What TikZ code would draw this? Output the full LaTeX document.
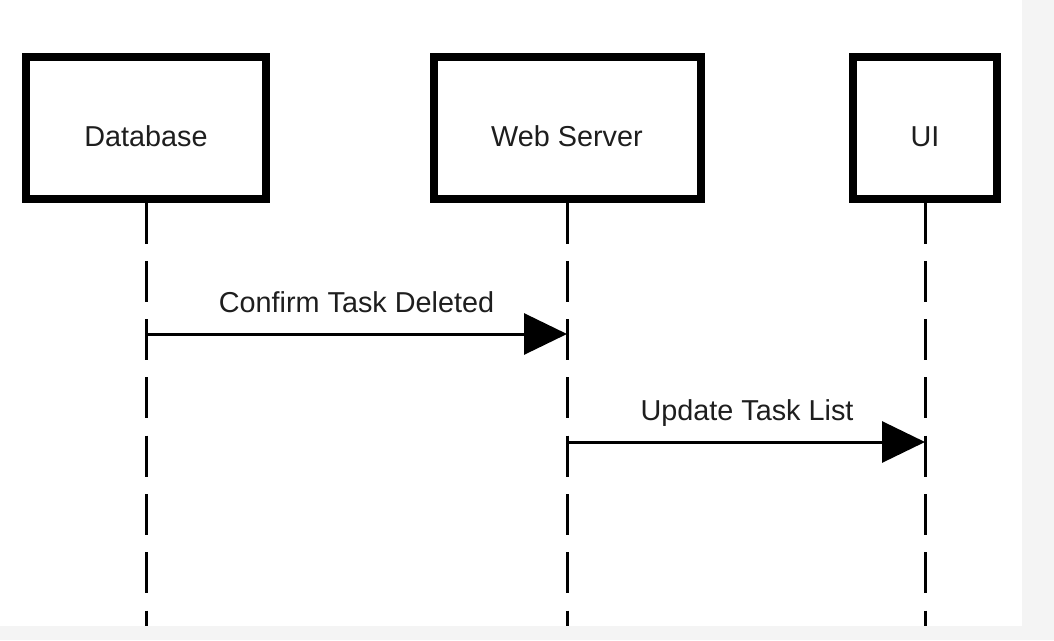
\documentclass[tikz,border=0pt]{standalone}
\usepackage{fontspec}
\setmainfont{Liberation Sans}
\usetikzlibrary{arrows.meta}
\definecolor{bggray}{HTML}{F4F4F4}
\definecolor{txt}{HTML}{1E1E1E}
\begin{document}
\begin{tikzpicture}[x=1pt,y=-1pt,
  actor/.style={draw=black,line width=8pt,fill=white,inner sep=0pt,
    minimum height=141.5pt,text height=37.5pt,text depth=0pt,
    font=\fontsize{28.8}{34}\selectfont,text=txt},
  lifeline/.style={line width=3pt,dash pattern=on 41pt off 17.3pt},
  msg/.style={line width=3pt,-{Triangle[length=43pt,width=41pt]}},
  msglabel/.style={font=\fontsize{28.8}{34}\selectfont,text=txt,inner sep=0pt,anchor=base}]
\useasboundingbox (0,0) rectangle (1054,640);
\fill[bggray] (0,0) rectangle (1054,640);
\fill[white] (0,0) rectangle (1022,626);
\node[actor,minimum width=240pt] (db) at (146,127.75) {Database};
\node[actor,minimum width=267pt] (ws) at (567,127.75) {Web Server};
\node[actor,minimum width=144pt] (ui) at (925,127.75) {UI};
\coordinate (dbend) at (146,626);
\coordinate (wsend) at (567,626);
\coordinate (uiend) at (925,626);
\draw[lifeline] (db.south) -- (dbend);
\draw[lifeline] (ws.south) -- (wsend);
\draw[lifeline] (ui.south) -- (uiend);
\coordinate (m1a) at (146,334);
\coordinate (m1b) at (567,334);
\coordinate (m2a) at (567,442);
\coordinate (m2b) at (925,442);
\draw[msg] (m1a) -- (m1b);
\draw[msg] (m2a) -- (m2b);
\node[msglabel] (l1) at (356.5,312) {Confirm Task Deleted};
\node[msglabel] (l2) at (747,420) {Update Task List};
\end{tikzpicture}
\end{document}
